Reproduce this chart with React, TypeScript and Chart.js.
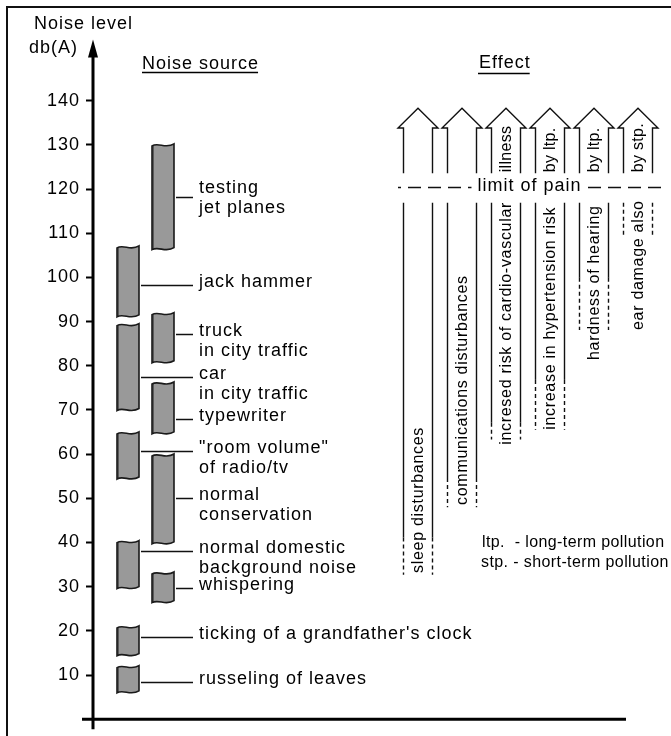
import React, { useEffect, useRef } from 'react';
import { Chart, registerables } from 'chart.js';

Chart.register(...registerables);

// ---------- data ----------
const yTickValues = [10, 20, 30, 40, 50, 60, 70, 80, 90, 100, 110, 120, 130, 140];

const sourceLabels: string[][] = [
  ['testing', 'jet planes'],
  ['jack hammer'],
  ['truck', 'in city traffic'],
  ['car', 'in city traffic'],
  ['typewriter'],
  ['"room volume"', 'of radio/tv'],
  ['normal', 'conservation'],
  ['normal domestic', 'background noise'],
  ['whispering'],
  ["ticking of a grandfather's clock"],
  ['russeling of leaves'],
];
const sourceColumn = [1, 0, 1, 0, 1, 0, 1, 0, 1, 0, 0];
const sourceLow = [106.5, 91.3, 80.9, 70.1, 64.8, 54.6, 39.9, 29.8, 26.6, 14.6, 6.2];
const sourceHigh = [130, 106.9, 91.8, 89.3, 76.1, 64.8, 59.8, 40.2, 33.1, 20.9, 11.9];
const sourceLevel = [118.2, 98.2, 87.2, 77.5, 68, 60.7, 50, 38.1, 29.6, 18.7, 8.4];

const effectLabels = [
  'sleep disturbances',
  'communications disturbances',
  'incresed risk of cardio-vascular',
  'increase in hypertension risk',
  'hardness of hearing',
  'ear damage also',
];
const effectUpperLabels = ['', '', 'illness', 'by ltp.', 'by ltp.', 'by stp.'];
const effectSolidTo = [41.1, 54.6, 67.1, 76.8, 99.9, 116.9];
const effectDashedTo = [32.7, 48, 63.3, 65.5, 88.1, 109.6];
const effectLabelFrom = [33.1, 48.5, 62.1, 65.5, 81.3, 88.1];

const limitOfPain = 120.5;
const legendLines = ['ltp.  - long-term pollution', 'stp. - short-term pollution'];

// ---------- layout ----------
const X_MAX = 578;
const COLUMN_LEFT = [24, 59];
const COLUMN_WIDTH = 22;
const LEADER_END = 100;
const LABEL_X = 106;
const EFFECT_LEFT0 = 310;
const EFFECT_STEP = 44;
const EFFECT_WIDTH = 29;
const FONT = '"Liberation Sans", Arial, sans-serif';

function setFont(ctx: CanvasRenderingContext2D, size: number, spacing: number) {
  ctx.font = `${size}px ${FONT}`;
  (ctx as any).letterSpacing = `${spacing}px`;
}

function wavyBar(ctx: CanvasRenderingContext2D, x0: number, x1: number, yT: number, yB: number) {
  const w = x1 - x0;
  ctx.beginPath();
  ctx.moveTo(x0, yT + 1);
  ctx.bezierCurveTo(x0 + w * 0.3, yT - 3, x0 + w * 0.62, yT + 4.5, x1, yT - 1);
  ctx.lineTo(x1, yB - 1);
  ctx.bezierCurveTo(x0 + w * 0.62, yB + 4.5, x0 + w * 0.3, yB - 3, x0, yB + 1);
  ctx.closePath();
  ctx.fillStyle = '#999999';
  ctx.fill();
  ctx.lineWidth = 1.6;
  ctx.strokeStyle = '#1a1a1a';
  ctx.stroke();
  ctx.beginPath();
  ctx.moveTo(x0 + 1, yT + 1);
  ctx.lineTo(x0 + 1, yB + 1);
  ctx.lineWidth = 1;
  ctx.stroke();
}

function vText(ctx: CanvasRenderingContext2D, text: string, x: number, y: number, size: number, spacing: number) {
  ctx.save();
  ctx.translate(x, y);
  ctx.rotate(-Math.PI / 2);
  setFont(ctx, size, spacing);
  ctx.textAlign = 'left';
  ctx.textBaseline = 'middle';
  ctx.fillStyle = '#000';
  ctx.fillText(text, 0, 0);
  ctx.restore();
}

const spacingPlugin = {
  id: 'tickSpacing',
  beforeDraw(chart: any) {
    chart.ctx.letterSpacing = '1px';
  },
};

const diagramPlugin = {
  id: 'noiseDiagram',
  afterDraw(chart: any) {
    const ctx: CanvasRenderingContext2D = chart.ctx;
    const xs = chart.scales.x;
    const ys = chart.scales.y;
    const px = (u: number) => xs.getPixelForValue(u);
    const py = (v: number) => ys.getPixelForValue(v);
    const area = chart.chartArea;
    ctx.save();

    // frame
    ctx.strokeStyle = '#111';
    ctx.lineWidth = 2;
    ctx.beginPath();
    ctx.moveTo(7, chart.height + 5);
    ctx.lineTo(7, 7);
    ctx.lineTo(chart.width + 5, 7);
    ctx.stroke();

    // axes
    const ax = px(0);
    ctx.lineWidth = 3;
    ctx.strokeStyle = '#000';
    ctx.beginPath();
    ctx.moveTo(ax, py(0) + 10);
    ctx.lineTo(ax, area.top);
    ctx.stroke();
    ctx.beginPath();
    ctx.moveTo(px(-11), py(0));
    ctx.lineTo(px(533), py(0));
    ctx.stroke();
    ctx.fillStyle = '#000';
    ctx.beginPath();
    ctx.moveTo(ax, area.top - 17);
    ctx.lineTo(ax - 5, area.top + 1);
    ctx.lineTo(ax + 5, area.top + 1);
    ctx.closePath();
    ctx.fill();

    // headers
    ctx.fillStyle = '#000';
    setFont(ctx, 18, 1);
    ctx.textAlign = 'left';
    ctx.textBaseline = 'middle';
    ctx.fillText('Noise level', 34, 24);
    ctx.fillText('db(A)', 29, 48);
    ctx.fillText('Noise source', 142, 64);
    ctx.fillText('Effect', 479, 63);
    ctx.lineWidth = 1.5;
    ctx.beginPath();
    ctx.moveTo(142, 72.5);
    ctx.lineTo(141 + ctx.measureText('Noise source').width, 72.5);
    ctx.moveTo(478, 73.5);
    ctx.lineTo(478 + ctx.measureText('Effect').width, 73.5);
    ctx.stroke();

    // sources
    for (let i = 0; i < sourceLabels.length; i++) {
      const col = sourceColumn[i];
      const x0 = px(COLUMN_LEFT[col]);
      const x1 = px(COLUMN_LEFT[col] + COLUMN_WIDTH);
      wavyBar(ctx, x0, x1, py(sourceHigh[i]), py(sourceLow[i]));
      const ly = Math.round(py(sourceLevel[i])) + 0.5;
      ctx.strokeStyle = '#111';
      ctx.lineWidth = 1.5;
      ctx.beginPath();
      ctx.moveTo(x1 + 2, ly);
      ctx.lineTo(px(LEADER_END), ly);
      ctx.stroke();
      ctx.fillStyle = '#000';
      setFont(ctx, 18, 1);
      ctx.textBaseline = 'middle';
      const lines = sourceLabels[i];
      const shift = i === 0 ? -9 : -3;
      lines.forEach((t, k) => ctx.fillText(t, px(LABEL_X), ly + shift + k * 20));
    }

    // effects
    const upperEnd = py(limitOfPain + 3.1);
    const lowerStart = py(limitOfPain - 3.6);
    const headBase = py(limitOfPain + 13.3);
    const tip = py(limitOfPain + 17.8);
    for (let i = 0; i < effectLabels.length; i++) {
      const l = Math.round(px(EFFECT_LEFT0 + i * EFFECT_STEP)) + 0.5;
      const r = Math.round(px(EFFECT_LEFT0 + i * EFFECT_STEP + EFFECT_WIDTH)) + 0.5;
      const c = (l + r) / 2;
      ctx.strokeStyle = '#111';
      ctx.lineWidth = 1.4;
      ctx.setLineDash([]);
      ctx.beginPath();
      ctx.moveTo(l, upperEnd);
      ctx.lineTo(l, headBase);
      ctx.lineTo(l - 5.5, headBase);
      ctx.lineTo(c, tip);
      ctx.lineTo(r + 5.5, headBase);
      ctx.lineTo(r, headBase);
      ctx.lineTo(r, upperEnd);
      ctx.stroke();
      for (const sx of [l, r]) {
        ctx.setLineDash([]);
        ctx.beginPath();
        ctx.moveTo(sx, lowerStart);
        ctx.lineTo(sx, py(effectSolidTo[i]));
        ctx.stroke();
        ctx.setLineDash([4, 3]);
        ctx.beginPath();
        ctx.moveTo(sx, py(effectSolidTo[i]));
        ctx.lineTo(sx, py(effectDashedTo[i]));
        ctx.stroke();
      }
      ctx.setLineDash([]);
      vText(ctx, effectLabels[i], c + 0.5, py(effectLabelFrom[i]), 16, 0.7);
      if (effectUpperLabels[i]) vText(ctx, effectUpperLabels[i], c + 0.5, py(limitOfPain + 3.3), 16, 0.3);
    }

    // limit of pain
    const ply = Math.round(py(limitOfPain)) + 0.5;
    ctx.strokeStyle = '#111';
    ctx.lineWidth = 1.4;
    ctx.setLineDash([13, 7]);
    ctx.lineDashOffset = 10;
    ctx.beginPath();
    ctx.moveTo(px(305), ply);
    ctx.lineTo(px(569), ply);
    ctx.stroke();
    ctx.setLineDash([]);
    setFont(ctx, 18, 1);
    const lpText = 'limit of pain';
    const lpW = ctx.measureText(lpText).width;
    const lpC = px(436.5);
    ctx.fillStyle = '#fff';
    ctx.fillRect(lpC - lpW / 2 - 6, ply - 9, lpW + 12, 18);
    ctx.fillStyle = '#000';
    ctx.textAlign = 'center';
    ctx.textBaseline = 'middle';
    ctx.fillText(lpText, lpC, ply - 1);

    // legend
    ctx.textAlign = 'left';
    setFont(ctx, 16, 0.4);
    legendLines.forEach((t, k) => ctx.fillText(t, px(389) - (k === 1 ? 1 : 0), py(39.9) + k * 20));

    ctx.restore();
  },
};

export default function App() {
  const ref = useRef<HTMLCanvasElement | null>(null);
  useEffect(() => {
    document.body.style.margin = '0';
    const canvas = ref.current;
    if (!canvas) return;
    const chart = new Chart(canvas, {
      type: 'scatter',
      data: { datasets: [{ data: [], showLine: false }] },
      options: {
        animation: false,
        responsive: false,
        devicePixelRatio: 1,
        layout: { padding: { top: 56.5, bottom: 16.5, left: 0, right: 0 } },
        plugins: { legend: { display: false }, tooltip: { enabled: false } },
        scales: {
          x: { type: 'linear', min: 0, max: X_MAX, display: false },
          y: {
            type: 'linear',
            min: 0,
            max: 150,
            afterBuildTicks: (scale: any) => {
              scale.ticks = yTickValues.map((v) => ({ value: v }));
            },
            afterFit: (scale: any) => {
              scale.width = 93;
            },
            grid: {
              drawOnChartArea: false,
              drawTicks: true,
              tickLength: 7,
              tickWidth: 2,
              tickColor: '#000',
            },
            border: { display: false },
            ticks: {
              color: '#000',
              padding: 6,
              font: { family: 'Liberation Sans', size: 18 },
            },
          },
        },
      },
      plugins: [spacingPlugin, diagramPlugin],
    } as any);
    return () => chart.destroy();
  }, []);
  return (
    <div style={{ width: 671, height: 736 }}>
      <canvas ref={ref} width={671} height={736} />
    </div>
  );
}
